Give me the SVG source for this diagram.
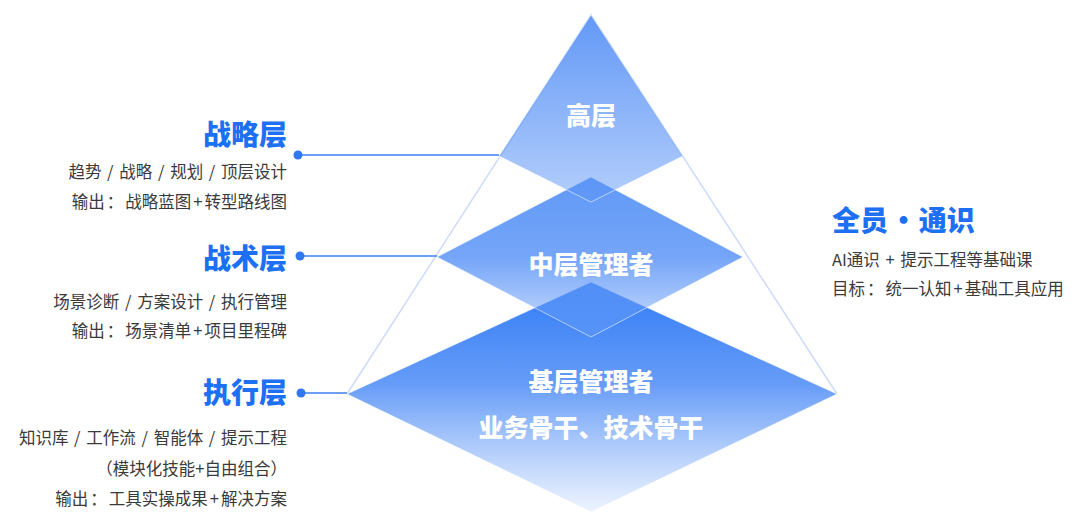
<svg xmlns="http://www.w3.org/2000/svg" width="1080" height="530" viewBox="0 0 1080 530">
<style>
.head{font-family:"Noto Sans CJK SC","Liberation Sans",sans-serif;font-weight:900;font-size:28px;fill:#1d6ff3}
.desc{font-family:"Noto Sans CJK SC","Liberation Sans",sans-serif;font-size:16.5px;fill:#3a3a3a;word-spacing:2px}
.lbl{font-family:"Noto Sans CJK SC","Liberation Sans",sans-serif;font-weight:900;font-size:25px;fill:#ffffff;text-anchor:middle}
.conn{stroke:#3b7ff2;stroke-width:1.5;fill:none}
.dot{fill:#2f78f2}
.shape{stroke:#ffffff;stroke-opacity:0.55;stroke-width:1}
</style>
<defs>
<linearGradient id="gTop" gradientUnits="userSpaceOnUse" x1="0" y1="15" x2="0" y2="202">
<stop offset="0" stop-color="#5a93f6" stop-opacity="0.95"/>
<stop offset="1" stop-color="#5a93f7" stop-opacity="0.45"/>
</linearGradient>
<linearGradient id="gMid" gradientUnits="userSpaceOnUse" x1="0" y1="177" x2="0" y2="337">
<stop offset="0" stop-color="#5390f6" stop-opacity="0.92"/>
<stop offset="0.5" stop-color="#5c95f7" stop-opacity="0.85"/>
<stop offset="1" stop-color="#6a9ff8" stop-opacity="0.35"/>
</linearGradient>
<linearGradient id="gBot" gradientUnits="userSpaceOnUse" x1="0" y1="282" x2="0" y2="512">
<stop offset="0" stop-color="#2f7af6" stop-opacity="1"/>
<stop offset="0.45" stop-color="#4687f6" stop-opacity="0.82"/>
<stop offset="1" stop-color="#6a9ff8" stop-opacity="0.12"/>
</linearGradient>
</defs>

<g id="outline">
<polyline points="347,394 591,15 837,394" fill="none" stroke="#cddcfb" stroke-width="1.5"/>
</g>

<g id="node-base">
<polygon class="shape" points="591,282 837,394 591,512 347,394" fill="url(#gBot)"/>
</g>
<g id="node-middle">
<polygon class="shape" points="591,177 743,257 591,337 437,257" fill="url(#gMid)"/>
</g>
<g id="node-top">
<polygon class="shape" points="591,15 683,156 591,202 499,156" fill="url(#gTop)"/>
</g>

<g id="connectors">
<line class="conn" x1="298" y1="155" x2="499" y2="155"/>
<circle class="dot" cx="298" cy="155" r="4.5"/>
<line class="conn" x1="300" y1="256" x2="437" y2="256"/>
<circle class="dot" cx="300" cy="256" r="4.5"/>
<line class="conn" x1="301" y1="393" x2="347" y2="393"/>
<circle class="dot" cx="301" cy="393" r="4.5"/>
</g>

<g id="label-top"><text class="lbl" x="591" y="125">高层</text></g>
<g id="label-middle"><text class="lbl" x="591" y="274">中层管理者</text></g>
<g id="label-base">
<text class="lbl" x="591" y="391">基层管理者</text>
<text class="lbl" x="591" y="437">业务骨干、技术骨干</text>
</g>

<g id="strategy" text-anchor="end">
<text class="head" x="287" y="145">战略层</text>
<text class="desc" x="287" y="178">趋势 / 战略 / 规划 / 顶层设计</text>
<text class="desc" x="287" y="208">输出<tspan dx="2">：</tspan><tspan dx="2">战略蓝图</tspan><tspan dx="2">+</tspan><tspan dx="2">转型路线图</tspan></text>
</g>
<g id="tactics" text-anchor="end">
<text class="head" x="287" y="269">战术层</text>
<text class="desc" x="287" y="308">场景诊断 / 方案设计 / 执行管理</text>
<text class="desc" x="287" y="337">输出<tspan dx="2">：</tspan><tspan dx="2">场景清单</tspan><tspan dx="2">+</tspan><tspan dx="2">项目里程碑</tspan></text>
</g>
<g id="execution" text-anchor="end">
<text class="head" x="287" y="403">执行层</text>
<text class="desc" x="287" y="444">知识库 / 工作流 / 智能体 / 提示工程</text>
<text class="desc" x="287" y="475">（模块化技能+自由组合）</text>
<text class="desc" x="287" y="505">输出<tspan dx="2">：</tspan><tspan dx="2">工具实操成果</tspan><tspan dx="2">+</tspan><tspan dx="2">解决方案</tspan></text>
</g>
<g id="all-staff">
<text class="head" x="832" y="231" style="word-spacing:-5px">全员 • 通识</text>
<text class="desc" x="832" y="266">AI通识 + 提示工程等基础课</text>
<text class="desc" x="832" y="295">目标<tspan dx="2">：</tspan><tspan dx="2">统一认知</tspan><tspan dx="2">+</tspan><tspan dx="2">基础工具应用</tspan></text>
</g>
</svg>
